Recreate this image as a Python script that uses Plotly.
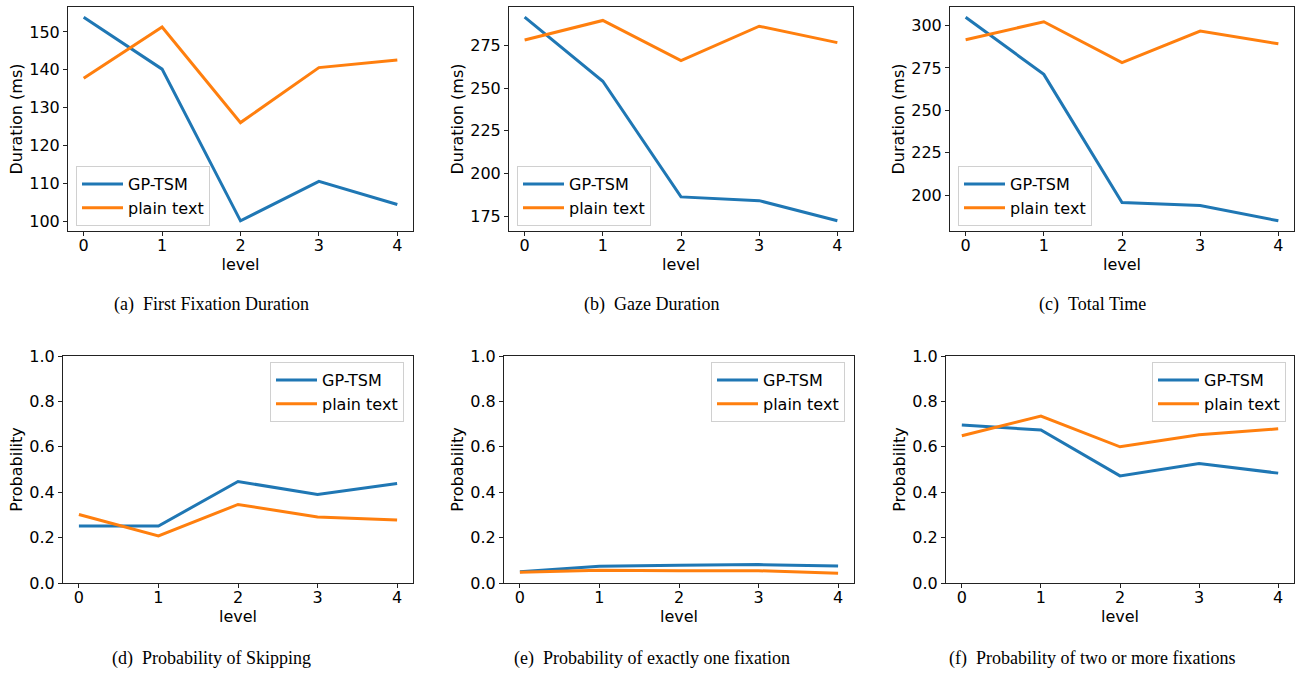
import plotly.graph_objects as go

levels = [0, 1, 2, 3, 4]

ffd_gptsm = [153.9, 140.2, 100.2, 110.6, 104.5]
ffd_plain = [137.8, 151.3, 126.1, 140.6, 142.6]

gaze_gptsm = [291.5, 254.0, 186.3, 184.1, 172.3]
gaze_plain = [278.1, 289.6, 266.1, 286.2, 276.6]

total_gptsm = [304.9, 271.2, 195.7, 193.9, 184.9]
total_plain = [291.6, 302.2, 278.1, 296.7, 289.2]

skip_gptsm = [0.251, 0.251, 0.447, 0.390, 0.438]
skip_plain = [0.302, 0.207, 0.346, 0.291, 0.277]

one_gptsm = [0.050, 0.074, 0.078, 0.081, 0.075]
one_plain = [0.047, 0.056, 0.054, 0.054, 0.043]

two_gptsm = [0.696, 0.674, 0.472, 0.526, 0.484]
two_plain = [0.649, 0.735, 0.600, 0.653, 0.679]

series_names = ["GP-TSM", "plain text"]
captions = [
    "(a)\u2002First Fixation Duration",
    "(b)\u2002Gaze Duration",
    "(c)\u2002Total Time",
    "(d)\u2002Probability of Skipping",
    "(e)\u2002Probability of exactly one fixation",
    "(f)\u2002Probability of two or more fixations",
]
ylabels = ["Duration (ms)"] * 3 + ["Probability"] * 3
xlabel = "level"

panels = [
    (ffd_gptsm, ffd_plain),
    (gaze_gptsm, gaze_plain),
    (total_gptsm, total_plain),
    (skip_gptsm, skip_plain),
    (one_gptsm, one_plain),
    (two_gptsm, two_plain),
]

W, H = 1295, 673
colors = ["#1f77b4", "#ff7f0e"]
FONT = "DejaVu Sans"

# pixel boxes of axes: (left, right, top, bottom)
boxes = [
    (68, 413, 7, 231),
    (509, 853, 7, 231),
    (950, 1294, 7, 231),
    (63, 413, 356, 583),
    (504, 854, 356, 583),
    (946, 1294, 356, 583),
]
# legend anchors (x, y, xanchor)
legend_pos = [
    (76, 166, "left"),
    (517, 166, "left"),
    (958, 166, "left"),
    (404, 362, "right"),
    (845, 362, "right"),
    (1286, 362, "right"),
]
caption_pos = [(211, 305), (652, 305), (1092, 305), (211, 658), (652, 658), (1092, 658)]
dticks = [10, 25, 25, 0.2, 0.2, 0.2]

fig = go.Figure()
layout = dict(
    width=W, height=H, margin=dict(l=0, r=0, t=0, b=0, autoexpand=False),
    paper_bgcolor="white", plot_bgcolor="white",
    font=dict(family=FONT, size=16, color="black"),
    showlegend=True,
)
annotations = []

for i, (g, p) in enumerate(panels):
    k = i + 1
    xa = "xaxis" if k == 1 else f"xaxis{k}"
    ya = "yaxis" if k == 1 else f"yaxis{k}"
    xr = "x" if k == 1 else f"x{k}"
    yr = "y" if k == 1 else f"y{k}"
    lg = "legend" if k == 1 else f"legend{k}"
    for j, vals in enumerate((g, p)):
        fig.add_trace(go.Scatter(
            x=levels, y=vals, mode="lines", name=series_names[j],
            line=dict(color=colors[j], width=3),
            xaxis=xr, yaxis=yr, legend=lg,
        ))
    l, r, t, b = boxes[i]
    common = dict(showline=True, linecolor="#222222", linewidth=1, mirror=True,
                  ticks="outside", ticklen=4, tickcolor="#222222", showgrid=False,
                  zeroline=False, automargin=False,
                  tickfont=dict(size=16, family=FONT))
    layout[xa] = dict(domain=[l / W, r / W], anchor=yr, range=[-0.2, 4.2],
                      tickmode="array", tickvals=levels, ticklabelstandoff=-4,
                      title=dict(text=xlabel, standoff=0, font=dict(size=16)),
                      **common)
    if i < 3:
        vals = g + p
        lo, hi = min(vals), max(vals)
        m = 0.05 * (hi - lo)
        yrange = [lo - m, hi + m]
        fmt = "d"
    else:
        yrange = [0, 1]
        fmt = ".1f"
    layout[ya] = dict(domain=[1 - b / H, 1 - t / H], anchor=xr, range=yrange,
                      dtick=dticks[i], tickformat=fmt,
                      title=dict(text=ylabels[i], standoff=2, font=dict(size=16)),
                      **common)
    lx, ly, anc = legend_pos[i]
    layout[lg] = dict(x=lx / W, y=1 - ly / H, xanchor=anc, yanchor="top",
                      xref="paper", yref="paper", itemwidth=41,
                      bgcolor="rgba(255,255,255,0.8)", bordercolor="#d0d0d0",
                      borderwidth=1, font=dict(size=16, family=FONT),
                      tracegroupgap=0)
    cx, cy = caption_pos[i]
    annotations.append(dict(
        text=captions[i], x=cx / W, y=1 - cy / H, xref="paper", yref="paper",
        xanchor="center", yanchor="middle", showarrow=False,
        font=dict(family="Liberation Serif", size=18, color="black"),
    ))

layout["annotations"] = annotations
fig.update_layout(**layout)
css_js = (
    "var s=document.createElement('style');"
    "s.textContent='html,body{margin:0!important;padding:0!important;overflow:hidden;}';"
    "document.head.appendChild(s);"
)
fig.write_html("out.html", config={"displayModeBar": False}, post_script=css_js)
